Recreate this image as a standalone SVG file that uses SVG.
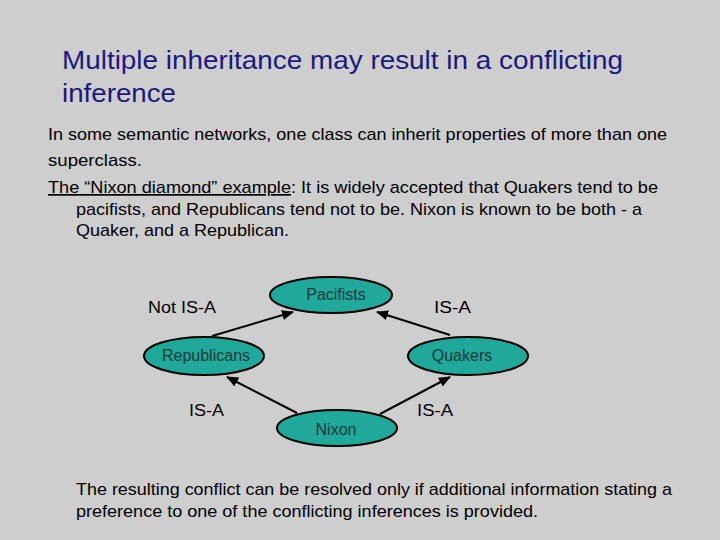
<svg xmlns="http://www.w3.org/2000/svg" width="720" height="540" viewBox="0 0 720 540">
<style>
.title{font-family:"Liberation Sans",Arial,sans-serif;font-size:26px;fill:#1a1a7e}
.body{font-family:"Liberation Sans",Arial,sans-serif;font-size:17px;fill:#000}
.lbl{font-family:"Liberation Sans",Arial,sans-serif;font-size:16px;fill:#000}
.node ellipse{fill:#20a89a;stroke:#000;stroke-width:2}
.node text{font-family:"Liberation Sans",Arial,sans-serif;font-size:16px;fill:#1e3a3a;text-anchor:middle}
.edge{stroke:#000;stroke-width:2;fill:none;marker-end:url(#ah)}
</style>
<defs>
<marker id="ah" markerUnits="userSpaceOnUse" markerWidth="12" markerHeight="10" refX="11" refY="5" orient="auto">
<path d="M0,0 L12,5 L0,10 Z" fill="#000"/>
</marker>
</defs>
<rect x="0" y="0" width="720" height="540" fill="#cecece"/>
<text class="title" x="62" y="69" textLength="561" lengthAdjust="spacingAndGlyphs">Multiple inheritance may result in a conflicting</text>
<text class="title" x="62" y="102" textLength="114" lengthAdjust="spacingAndGlyphs">inference</text>
<text class="body" x="48" y="140" textLength="619" lengthAdjust="spacingAndGlyphs">In some semantic networks, one class can inherit properties of more than one</text>
<text class="body" x="48" y="166" textLength="94" lengthAdjust="spacingAndGlyphs">superclass.</text>
<text class="body" x="48" y="193" textLength="610" lengthAdjust="spacingAndGlyphs"><tspan text-decoration="underline">The “Nixon diamond” example</tspan>:  It is widely accepted that Quakers tend to be</text>
<text class="body" x="76" y="215" textLength="566" lengthAdjust="spacingAndGlyphs">pacifists, and Republicans tend not to be. Nixon is known to be both - a</text>
<text class="body" x="76" y="236" textLength="213" lengthAdjust="spacingAndGlyphs">Quaker, and a Republican.</text>
<g id="connectors">
<line class="edge" x1="212" y1="336" x2="293" y2="312"/>
<line class="edge" x1="450" y1="335" x2="377" y2="312"/>
<line class="edge" x1="297" y1="413" x2="227" y2="377"/>
<line class="edge" x1="380" y1="414" x2="450" y2="377"/>
</g>
<text class="lbl" x="148" y="313" textLength="68" lengthAdjust="spacingAndGlyphs">Not IS-A</text>
<text class="lbl" x="434" y="313" textLength="37" lengthAdjust="spacingAndGlyphs">IS-A</text>
<text class="lbl" x="189" y="416" textLength="35" lengthAdjust="spacingAndGlyphs">IS-A</text>
<text class="lbl" x="417" y="416" textLength="36" lengthAdjust="spacingAndGlyphs">IS-A</text>
<g id="pacifists" class="node"><ellipse cx="331" cy="295" rx="61" ry="18"/><text x="336" y="300">Pacifists</text></g>
<g id="republicans" class="node"><ellipse cx="204" cy="356" rx="60" ry="19"/><text x="206" y="361">Republicans</text></g>
<g id="quakers" class="node"><ellipse cx="468" cy="356" rx="60" ry="19"/><text x="462" y="361">Quakers</text></g>
<g id="nixon" class="node"><ellipse cx="337" cy="428" rx="60" ry="18"/><text x="336" y="435">Nixon</text></g>
<text class="body" x="76" y="495" textLength="596" lengthAdjust="spacingAndGlyphs">The resulting conflict can be resolved only if additional information stating a</text>
<text class="body" x="76" y="517" textLength="462" lengthAdjust="spacingAndGlyphs">preference to one of the conflicting inferences is provided.</text>
</svg>
